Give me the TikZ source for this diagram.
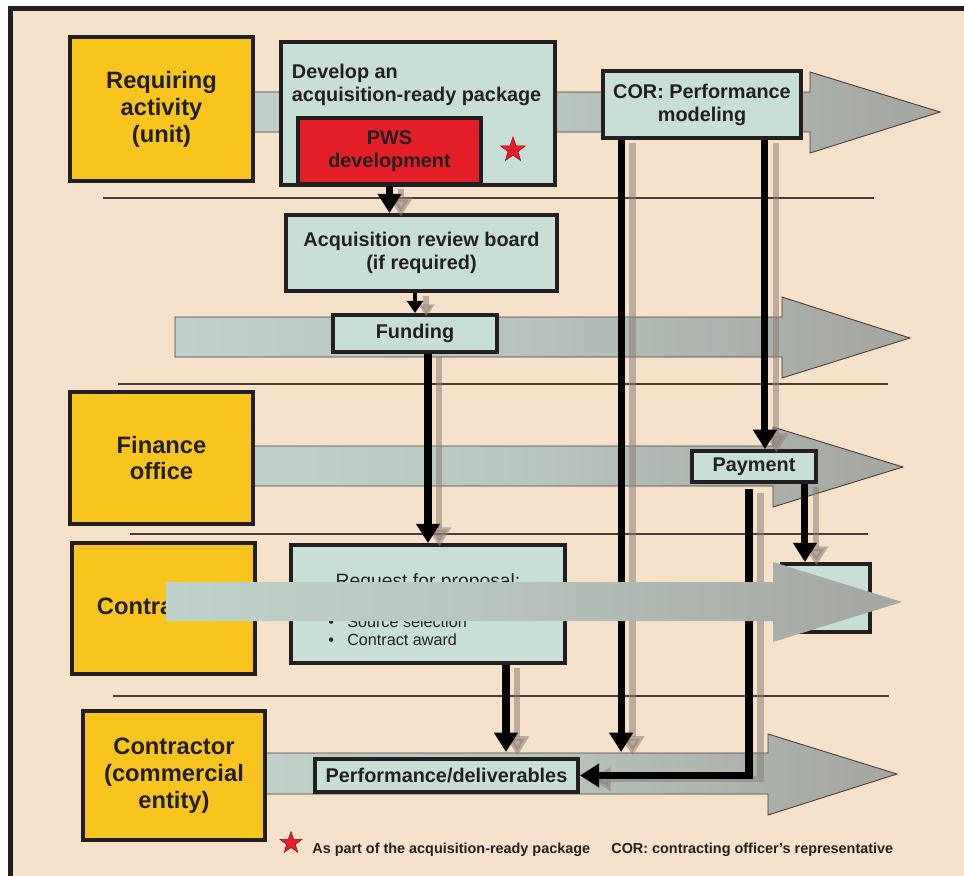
\documentclass[tikz,border=0pt]{standalone}
\usepackage{fontspec}
\setmainfont{Liberation Sans}
\usetikzlibrary{arrows.meta,shapes.geometric}

\definecolor{ink}{HTML}{231F20}
\definecolor{paper}{HTML}{F6E1CB}
\definecolor{unityellow}{HTML}{F8C51E}
\definecolor{pale}{HTML}{C8DFD7}
\definecolor{pwsred}{HTML}{E41E26}
\definecolor{bandgray}{HTML}{A6A8A3}
\definecolor{rule}{HTML}{4A3C33}
\definecolor{dropgray}{HTML}{8F8075}
\pgfdeclarehorizontalshading{lane}{100bp}{color(0bp)=(pale); color(45bp)=(pale!55!bandgray); color(72bp)=(bandgray); color(100bp)=(bandgray)}

\begin{document}
\begin{tikzpicture}[x=0.02cm,y=-0.02cm,
  unit/.style={draw=ink,line width=2.2pt,fill=unityellow,text=ink,font=\fontsize{13.5}{15.3}\selectfont\bfseries,align=center,inner sep=0pt},
  box/.style={draw=ink,line width=2.2pt,fill=pale,text=ink,font=\fontsize{11.3}{13}\selectfont\bfseries,align=center,inner sep=0pt},
  lane/.style={shade,shading=lane,draw=rule,line width=.5pt},
  sep/.style={draw=rule,line width=.6pt},
  flow/.style={draw=black,line width=4pt,-{Triangle[width=13pt,length=11pt]},
    preaction={draw=dropgray,opacity=.55,line width=3.5pt,transform canvas={xshift=6.5pt,yshift=-2pt}}},
  smallflow/.style={flow,line width=2.8pt,-{Triangle[width=9pt,length=7pt]}},
  legend/.style={text=ink,font=\fontsize{8.2}{10}\selectfont\bfseries,inner sep=0pt},
  redstar/.style={star,star points=5,star point ratio=2.5,fill=pwsred,draw=pwsred!60!black,line width=.3pt,inner sep=0pt}]

\useasboundingbox (0,0) rectangle (964,876);
\fill[white] (0,0) rectangle (964,876);
\fill[paper] (10,8) rectangle (964,876);
\draw[ink,line width=2.8pt] (10.5,876) -- (10.5,8.5) -- (964,8.5);

\foreach \y/\a/\b in {198/103/874, 384/118/888, 534/130/868, 696/113/889}
  \draw[sep] (\a,\y) -- (\b,\y);

\path[lane] (253,92) -- (810,92) -- (810,72) -- (940,112) -- (810,153) -- (810,132) -- (253,132) -- cycle;
\path[lane] (175,317) -- (782,317) -- (782,297) -- (910,338) -- (782,378) -- (782,357) -- (175,357) -- cycle;
\path[lane] (253,446) -- (773,446) -- (773,427) -- (903,467) -- (773,507) -- (773,486) -- (253,486) -- cycle;
\path[lane] (266,753) -- (768,753) -- (768,734) -- (897,774) -- (768,815) -- (768,794) -- (266,794) -- cycle;

\node[unit,minimum width=3.66cm,minimum height=2.88cm] (req) at (161.5,109) {Requiring\\activity\\(unit)};
\node[unit,minimum width=3.66cm,minimum height=2.64cm] (fin) at (161.5,458) {Finance\\office};
\node[unit,minimum width=3.66cm,minimum height=2.62cm] (ctg) at (163.5,608.5) {Contracting};
\node[unit,minimum width=3.64cm,minimum height=2.58cm] (ctr) at (174,775.5) {Contractor\\(commercial\\entity)};

\node[box,minimum width=5.48cm,minimum height=2.86cm] (dev) at (418,113.5) {};
\node[box,anchor=north west,align=left,draw=none,fill=none] (devlabel) at (290,62) {Develop an\\acquisition-ready package};
\node[box,fill=pwsred,minimum width=3.66cm,minimum height=1.32cm] (pws) at (389.5,151) {PWS\\development};
\node[redstar,minimum size=0.52cm] (devstar) at (513,150) {};
\node[box,minimum width=3.96cm,minimum height=1.34cm] (cor) at (702,104.5) {COR: Performance\\modeling};
\node[box,minimum width=5.42cm,minimum height=1.52cm] (arb) at (421.5,253) {Acquisition review board\\(if required)};
\node[box,minimum width=3.28cm,minimum height=0.74cm] (fund) at (415,333.5) {Funding};
\node[box,minimum width=2.48cm,minimum height=0.62cm] (pay) at (754,466.5) {Payment};
\node[box,minimum width=5.48cm,minimum height=2.36cm] (rfp) at (428,604) {};
\node[text=ink,font=\fontsize{11}{13}\selectfont,inner sep=0pt] (rfptitle) at (428,582) {Request for proposal:};
\node[text=ink,font=\fontsize{9.2}{10.2}\selectfont,align=left,anchor=west,inner sep=0pt] (rfpitems) at (328,631)
  {\makebox[10.8pt][l]{\textbullet}Source selection\\\makebox[10.8pt][l]{\textbullet}Contract award};
\node[box,minimum width=1.76cm,minimum height=1.36cm] (rbox) at (826,598) {};
\node[box,minimum width=5.26cm,minimum height=0.66cm] (perf) at (446.5,775.5) {Performance/deliverables};

\coordinate (ctrtop) at (0,752);
\coordinate (payout) at (749,489);

\draw[flow] (pws.south) -- (pws.south |- arb.north);
\draw[smallflow] (arb.south -| fund.north) -- (fund.north);
\draw[flow] (fund.south -| rfp.north) -- (rfp.north);
\draw[flow] ([xshift=1.56cm]rfp.south) -- ([xshift=1.56cm]rfp.south |- ctrtop);
\draw[flow] ([xshift=0.4cm]cor.south west) -- ([xshift=0.4cm]cor.south west |- ctrtop);
\draw[flow] ([xshift=-0.76cm]cor.south east) -- ([xshift=-0.76cm]cor.south east |- pay.north);
\draw[flow] ([xshift=-0.26cm]pay.south east) -- ([xshift=-0.26cm]pay.south east |- rbox.north);
\draw[flow] (payout) |- (perf.east);

\path[shade,shading=lane] (166,582) -- (773,582) -- (773,562) -- (902,602) -- (773,642) -- (773,621) -- (166,621) -- cycle;

\node[redstar,minimum size=0.46cm] (legstar) at (291,843) {};
\node[legend,anchor=west] (legpkg) at (312,850) {As part of the acquisition-ready package};
\node[legend,anchor=west] (legcor) at (611,850) {COR: contracting officer's representative};
\end{tikzpicture}
\end{document}
